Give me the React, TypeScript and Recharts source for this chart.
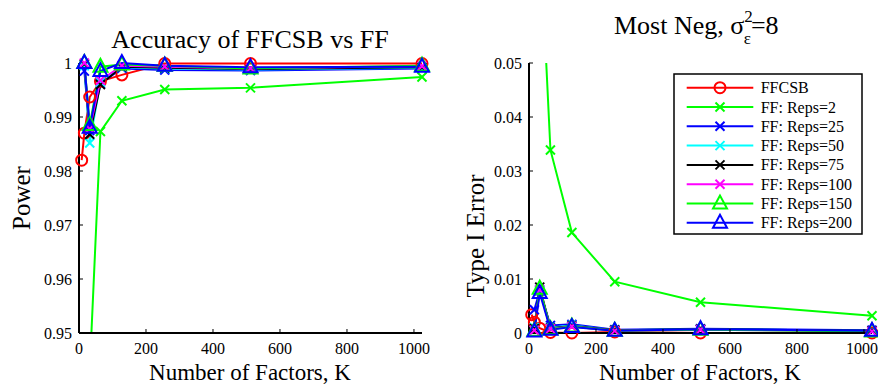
import React from 'react'
import { LineChart, Line, XAxis, YAxis } from 'recharts'

// K values (number of factors)
const K_CSB = [8, 16, 32, 64, 128, 256, 512, 1024]
const K_FF = [16, 32, 64, 128, 256, 512, 1024]
const K_REPS2 = [32, 64, 128, 256, 512, 1024]

const X_TICKS = [0, 200, 400, 600, 800, 1000]
const POWER_TICKS = [0.95, 0.96, 0.97, 0.98, 0.99, 1]
const ERROR_TICKS = [0, 0.01, 0.02, 0.03, 0.04, 0.05]

// power (left panel)
const powCsb = [0.982, 0.987, 0.9937, 0.9966, 0.9978, 0.9999, 0.9999, 0.9999]
const powReps2 = [0.943, 0.9873, 0.993, 0.9951, 0.9954, 0.9974]
const powReps25 = [0.9985, 0.9875, 0.9962, 0.999, 0.9987, 0.9986, 0.999]
const powReps50 = [0.9995, 0.9852, 0.9965, 0.9992, 0.999, 0.9988, 0.9991]
const powReps75 = [0.9998, 0.9868, 0.996, 0.9993, 0.9991, 0.9989, 0.9992]
const powReps100 = [1, 0.9878, 0.9968, 0.9995, 0.9993, 0.999, 0.9994]
const powReps150 = [1, 0.9885, 0.9993, 0.9997, 0.9995, 0.999, 0.9995]
const powReps200 = [1, 0.988, 0.9985, 1, 0.9995, 0.9992, 0.9993]

// type I error (right panel)
const errCsb = [0.0034, 0.002, 0.0009, 0.0001, 0, 0.0002, 0, 0]
const errReps2 = [0.075, 0.0339, 0.0186, 0.0095, 0.0057, 0.0032]
const errReps25 = [0.0043, 0.0078, 0.0014, 0.0016, 0.0006, 0.0008, 0.0005]
const errReps50 = [0.001, 0.008, 0.001, 0.0014, 0.0005, 0.0007, 0.0004]
const errReps75 = [0.0008, 0.0085, 0.0009, 0.0013, 0.0005, 0.0007, 0.0004]
const errReps100 = [0.0005, 0.008, 0.0008, 0.0012, 0.0004, 0.0006, 0.0003]
const errReps150 = [0.0004, 0.0082, 0.0007, 0.0012, 0.0004, 0.0006, 0.0003]
const errReps200 = [0.0003, 0.0074, 0.0006, 0.0011, 0.0004, 0.0007, 0.0004]

type Marker = 'circle' | 'cross' | 'triangle'

const SERIES: { name: string; color: string; marker: Marker; k: number[]; pow: number[]; err: number[]; clip?: boolean }[] = [
  { name: 'FFCSB', color: '#ff0000', marker: 'circle', k: K_CSB, pow: powCsb, err: errCsb },
  { name: 'FF: Reps=2', color: '#00ff00', marker: 'cross', k: K_REPS2, pow: powReps2, err: errReps2, clip: true },
  { name: 'FF: Reps=25', color: '#0000ff', marker: 'cross', k: K_FF, pow: powReps25, err: errReps25 },
  { name: 'FF: Reps=50', color: '#00ffff', marker: 'cross', k: K_FF, pow: powReps50, err: errReps50 },
  { name: 'FF: Reps=75', color: '#000000', marker: 'cross', k: K_FF, pow: powReps75, err: errReps75 },
  { name: 'FF: Reps=100', color: '#ff00ff', marker: 'cross', k: K_FF, pow: powReps100, err: errReps100 },
  { name: 'FF: Reps=150', color: '#00ff00', marker: 'triangle', k: K_FF, pow: powReps150, err: errReps150 },
  { name: 'FF: Reps=200', color: '#0000ff', marker: 'triangle', k: K_FF, pow: powReps200, err: errReps200 },
]

const FONT = '"Liberation Serif", "DejaVu Serif", serif'

function MarkerShape({ cx, cy, color, marker }: { cx: number; cy: number; color: string; marker: Marker }) {
  if (cx == null || cy == null) return null
  if (marker === 'circle') {
    return <circle cx={cx} cy={cy} r={5.5} fill="none" stroke={color} strokeWidth={2} />
  }
  if (marker === 'cross') {
    const d = 4.5
    return (
      <g stroke={color} strokeWidth={2}>
        <line x1={cx - d} y1={cy - d} x2={cx + d} y2={cy + d} />
        <line x1={cx - d} y1={cy + d} x2={cx + d} y2={cy - d} />
      </g>
    )
  }
  return (
    <polygon
      points={`${cx},${cy - 8} ${cx - 7},${cy + 5} ${cx + 7},${cy + 5}`}
      fill="none"
      stroke={color}
      strokeWidth={2}
    />
  )
}

const tickStyle = { fontFamily: FONT, fontSize: 16, fill: '#000' }
const axisLine = { stroke: '#000', strokeWidth: 2 }
const tickLine = { stroke: '#000', strokeWidth: 1 }

function Panel({
  left,
  width,
  yWidth,
  right,
  domain,
  ticks,
  field,
}: {
  left: number
  width: number
  yWidth: number
  right: number
  domain: [number, number]
  ticks: number[]
  field: 'pow' | 'err'
}) {
  const fmt = (v: number) => (v === 1 || v === 0 ? String(v) : v.toFixed(2))
  return (
    <div style={{ position: 'absolute', left, top: 0 }}>
      <LineChart width={width} height={389} margin={{ top: 63, right, bottom: 0, left: 0 }}>
        <XAxis
          xAxisId="b"
          dataKey="k"
          type="number"
          domain={[0, 1024]}
          ticks={X_TICKS}
          orientation="bottom"
          height={56}
          tickSize={-4}
          tickMargin={14}
          tick={tickStyle}
          axisLine={axisLine}
          tickLine={tickLine}
        />
        <XAxis
          xAxisId="t"
          dataKey="k"
          type="number"
          domain={[0, 1024]}
          ticks={X_TICKS}
          orientation="top"
          height={0}
          tickSize={-4}
          tick={false}
          axisLine={axisLine}
          tickLine={tickLine}
        />
        <YAxis
          yAxisId="l"
          type="number"
          domain={domain}
          ticks={ticks}
          width={yWidth}
          tickSize={-4}
          tickMargin={11}
          tickFormatter={fmt}
          tick={tickStyle}
          axisLine={axisLine}
          tickLine={tickLine}
        />
        <YAxis
          yAxisId="r"
          type="number"
          orientation="right"
          domain={domain}
          allowDataOverflow
          ticks={ticks}
          width={0}
          tickSize={-4}
          tick={false}
          axisLine={axisLine}
          tickLine={tickLine}
        />
        {SERIES.map((s) => (
          <Line
            key={s.name}
            xAxisId={s.clip ? 't' : 'b'}
            yAxisId={s.clip ? 'r' : 'l'}
            data={s.k.map((k, i) => ({ k, v: s[field][i] }))}
            dataKey="v"
            type="linear"
            stroke={s.color}
            strokeWidth={2}
            isAnimationActive={false}
            dot={(p: any) => (
              <MarkerShape key={p.index} cx={p.cx} cy={p.cy} color={s.color} marker={s.marker} />
            )}
            activeDot={false}
          />
        ))}
      </LineChart>
    </div>
  )
}

export default function App() {
  return (
    <div style={{ position: 'absolute', left: 0, top: 0, width: 878, height: 389, background: '#fff', overflow: 'hidden' }}>
      <Panel left={0} width={440} yWidth={79} right={18} domain={[0.95, 1]} ticks={POWER_TICKS} field="pow" />
      <Panel left={440} width={438} yWidth={89} right={6} domain={[0, 0.05]} ticks={ERROR_TICKS} field="err" />
      <svg
        width={878}
        height={389}
        style={{ position: 'absolute', left: 0, top: 0, pointerEvents: 'none' }}
        fontFamily={FONT}
      >
        <text x={250} y={48} textAnchor="middle" fontSize={26}>
          Accuracy of FFCSB vs FF
        </text>
        <text x={614} y={34} fontSize={26}>
          Most Neg, σ
          <tspan dy={-12} fontSize={17}>2</tspan>
          <tspan dx={-9} dy={22} fontSize={17}>ε</tspan>
          <tspan dy={-10}>=8</tspan>
        </text>
        <text x={250} y={380} textAnchor="middle" fontSize={23}>
          Number of Factors, K
        </text>
        <text x={700} y={380} textAnchor="middle" fontSize={23}>
          Number of Factors, K
        </text>
        <text x={30} y={198} textAnchor="middle" fontSize={25} transform="rotate(-90 30 198)">
          Power
        </text>
        <text x={484} y={236} textAnchor="middle" fontSize={25} transform="rotate(-90 484 236)">
          Type I Error
        </text>
        {/* legend */}
        <rect x={674} y={74} width={188} height={160} fill="#fff" stroke="#000" strokeWidth={1.5} />
        {SERIES.map((s, i) => {
          const cy = 87.7 + i * 19.3
          return (
            <g key={s.name}>
              <line x1={686.7} x2={753.3} y1={cy} y2={cy} stroke={s.color} strokeWidth={2} />
              <MarkerShape cx={720} cy={cy} color={s.color} marker={s.marker} />
              <text x={760.7} y={cy + 5.5} fontSize={16}>
                {s.name}
              </text>
            </g>
          )
        })}
      </svg>
    </div>
  )
}
